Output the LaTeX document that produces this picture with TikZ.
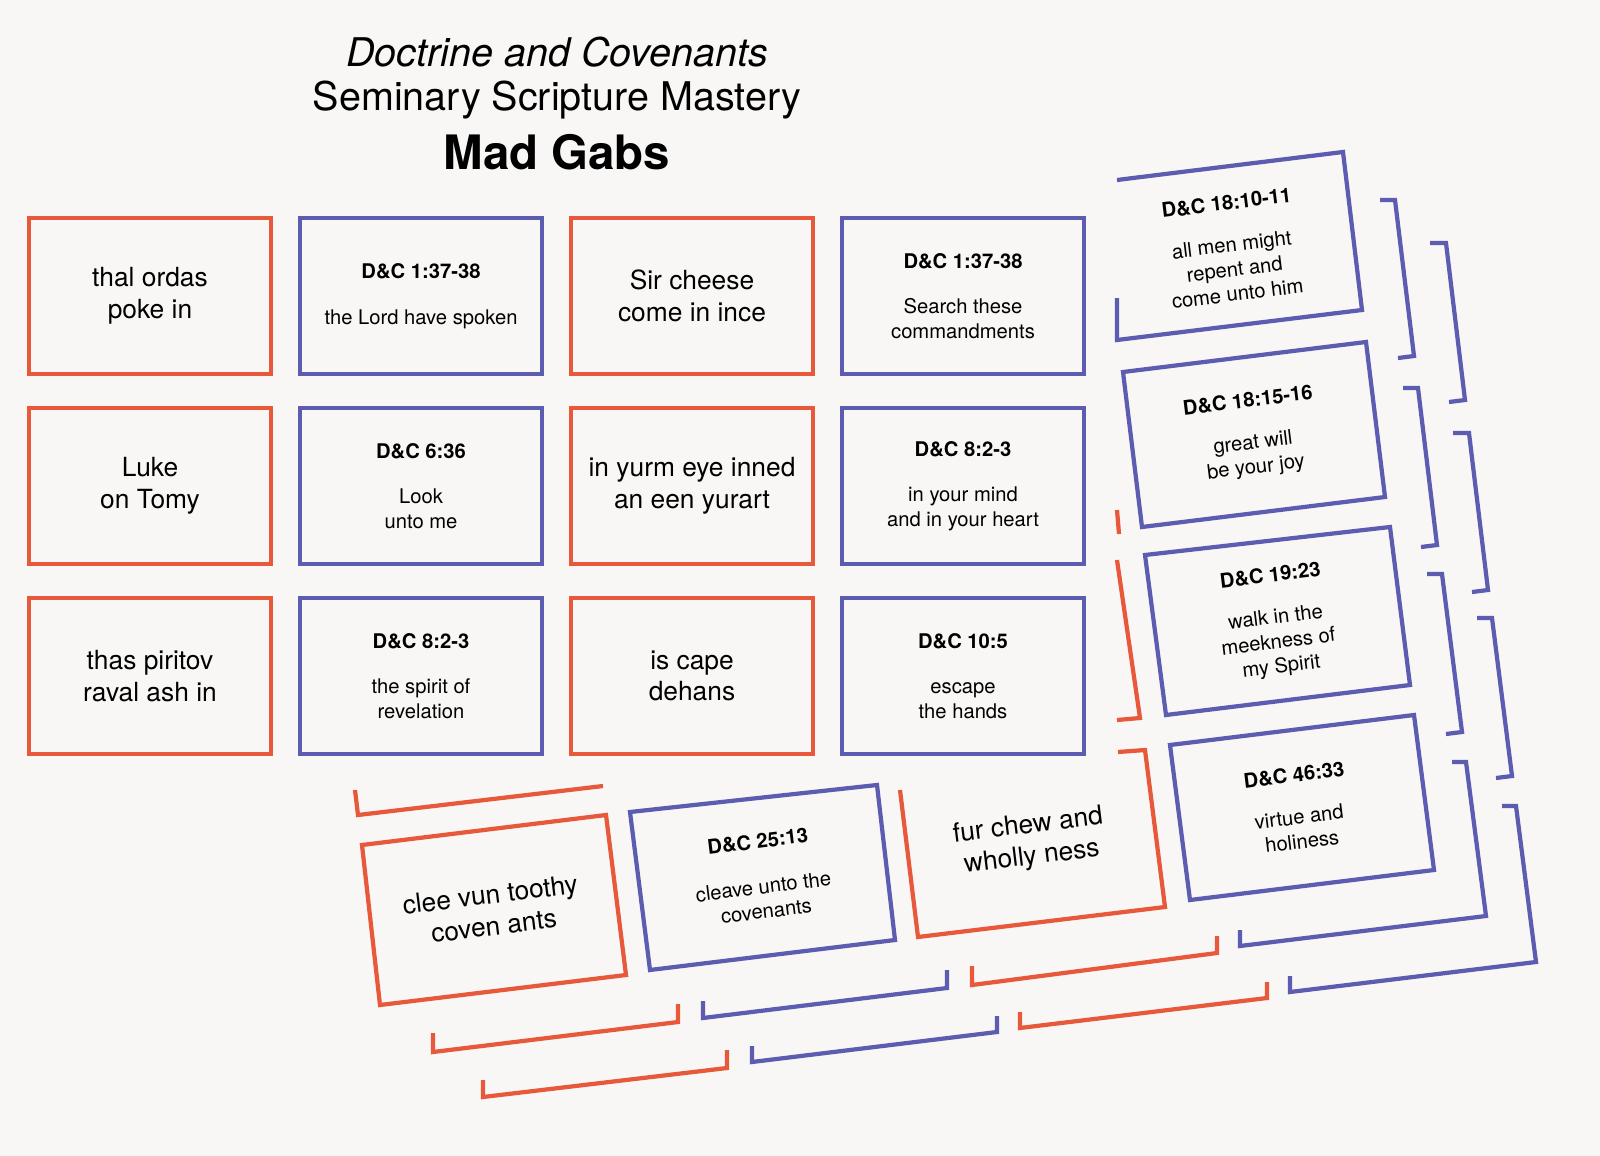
\documentclass[tikz,border=0pt]{standalone}
\usepackage{fontspec}
\setmainfont{TeX Gyre Heros}
\definecolor{cardred}{RGB}{232,88,58}
\definecolor{cardblue}{RGB}{92,92,176}
\definecolor{paper}{RGB}{248,247,246}

\begin{document}
\begin{tikzpicture}[x=0.02cm, y=-0.02cm,
    gab/.style={rectangle, draw=cardred, line width=2.4pt, minimum width=4.84cm, minimum height=3.12cm, align=center, font=\fontsize{15}{18}\selectfont},
    ref/.style={rectangle, draw=cardblue, line width=2.4pt, minimum width=4.84cm, minimum height=3.12cm, align=center, font=\fontsize{11.5}{14}\selectfont},
    redline/.style={draw=cardred, line width=2.4pt},
    blueline/.style={draw=cardblue, line width=2.4pt},
    tilt/.style={rotate=7, align=center, inner sep=1pt}
]
\fill[paper] (0,0) rectangle (1600,1156);

% title
\node[font=\fontsize{22.5}{26}\selectfont\itshape] (t1) at (557,52) {Doctrine and Covenants};
\node[font=\fontsize{22.5}{26}\selectfont] (t2) at (557,100) {Seminary Scripture Mastery};
\node[font=\fontsize{27}{30}\selectfont\bfseries] (t3) at (557,152) {Mad Gabs};

% grid of cards
\node[gab] (g11) at (150,296) {thal ordas\\poke in};
\node[ref] (r11) at (421,296) {\textbf{D\&C 1:37-38}\\[12pt]the Lord have spoken};
\node[gab] (g12) at (692,296) {Sir cheese\\come in ince};
\node[ref] (r12) at (963,296) {\textbf{D\&C 1:37-38}\\[12pt]Search these\\commandments};
\node[gab] (g21) at (150,486) {Luke\\on Tomy};
\node[ref] (r21) at (421,486) {\textbf{D\&C 6:36}\\[12pt]Look\\unto me};
\node[gab] (g22) at (692,486) {in yurm eye inned\\an een yurart};
\node[ref] (r22) at (963,486) {\textbf{D\&C 8:2-3}\\[12pt]in your mind\\and in your heart};
\node[gab] (g31) at (150,676) {thas piritov\\raval ash in};
\node[ref] (r31) at (421,676) {\textbf{D\&C 8:2-3}\\[12pt]the spirit of\\revelation};
\node[gab] (g32) at (692,676) {is cape\\dehans};
\node[ref] (r32) at (963,676) {\textbf{D\&C 10:5}\\[12pt]escape\\the hands};

% partial red card behind the right column
\draw[redline] (1117,510) -- (1119,534);
\draw[redline] (1117,560) -- (1140,718) -- (1117,720);

% right column, tilted
\draw[blueline] (1117,180) -- (1343,152) -- (1362,310) -- (1117,340) -- (1117,298);
\draw[blueline] (1123,372) -- (1366,342) -- (1385,497) -- (1142,527) -- cycle;
\draw[blueline] (1145,555) -- (1390,527) -- (1410,685) -- (1166,715) -- cycle;
\draw[blueline] (1170,745) -- (1414,715) -- (1434,870) -- (1190,900) -- cycle;
\node[tilt, font=\fontsize{11.5}{14}\selectfont] (r41) at (1232,248) {\textbf{D\&C 18:10-11}\\[10pt]all men might\\repent and\\come unto him};
\node[tilt, font=\fontsize{11.5}{14}\selectfont] (r42) at (1252,435) {\textbf{D\&C 18:15-16}\\[10pt]great will\\be your joy};
\node[tilt, font=\fontsize{11.5}{14}\selectfont] (r43) at (1276,622) {\textbf{D\&C 19:23}\\[10pt]walk in the\\meekness of\\my Spirit};
\node[tilt, font=\fontsize{11.5}{14}\selectfont] (r44) at (1298,808) {\textbf{D\&C 46:33}\\[10pt]virtue and\\holiness};

% stacked edges behind the right column
\draw[blueline] (1380,200) -- (1395,200) -- (1414,356) -- (1398,358);
\draw[blueline] (1430,243) -- (1446,243) -- (1465,400) -- (1449,402);
\draw[blueline] (1403,388) -- (1418,388) -- (1437,545) -- (1421,547);
\draw[blueline] (1453,433) -- (1469,433) -- (1488,590) -- (1472,592);
\draw[blueline] (1427,574) -- (1442,574) -- (1462,732) -- (1446,734);
\draw[blueline] (1477,618) -- (1492,618) -- (1512,776) -- (1496,778);
\draw[blueline] (1452,762) -- (1466,762) -- (1486,916) -- (1240,946) -- (1240,930);
\draw[blueline] (1502,806) -- (1516,806) -- (1536,962) -- (1290,992) -- (1290,976);

% bottom row, tilted
\draw[redline] (355,790) -- (358,815) -- (603,786);
\draw[redline] (362,845) -- (606,815) -- (626,975) -- (380,1005) -- cycle;
\draw[blueline] (630,812) -- (877,785) -- (895,940) -- (650,970) -- cycle;
\draw[redline] (1118,752) -- (1145,750) -- (1165,907) -- (918,937) -- (900,790);
\node[tilt, font=\fontsize{15}{18}\selectfont] (g41) at (492,910) {clee vun toothy\\coven ants};
\node[tilt, font=\fontsize{11.5}{14}\selectfont] (r45) at (762,876) {\textbf{D\&C 25:13}\\[12pt]cleave unto the\\covenants};
\node[tilt, font=\fontsize{15}{18}\selectfont] (g42) at (1030,842) {fur chew and\\wholly ness};

% stacked edges under the bottom row
\draw[redline] (433,1033) -- (433,1052) -- (678,1022) -- (678,1004);
\draw[redline] (483,1080) -- (483,1097) -- (727,1068) -- (727,1050);
\draw[blueline] (703,1001) -- (703,1018) -- (947,988) -- (947,970);
\draw[blueline] (752,1046) -- (752,1062) -- (997,1032) -- (997,1016);
\draw[redline] (972,966) -- (972,985) -- (1217,953) -- (1217,936);
\draw[redline] (1020,1012) -- (1020,1028) -- (1267,998) -- (1267,982);
\end{tikzpicture}
\end{document}
